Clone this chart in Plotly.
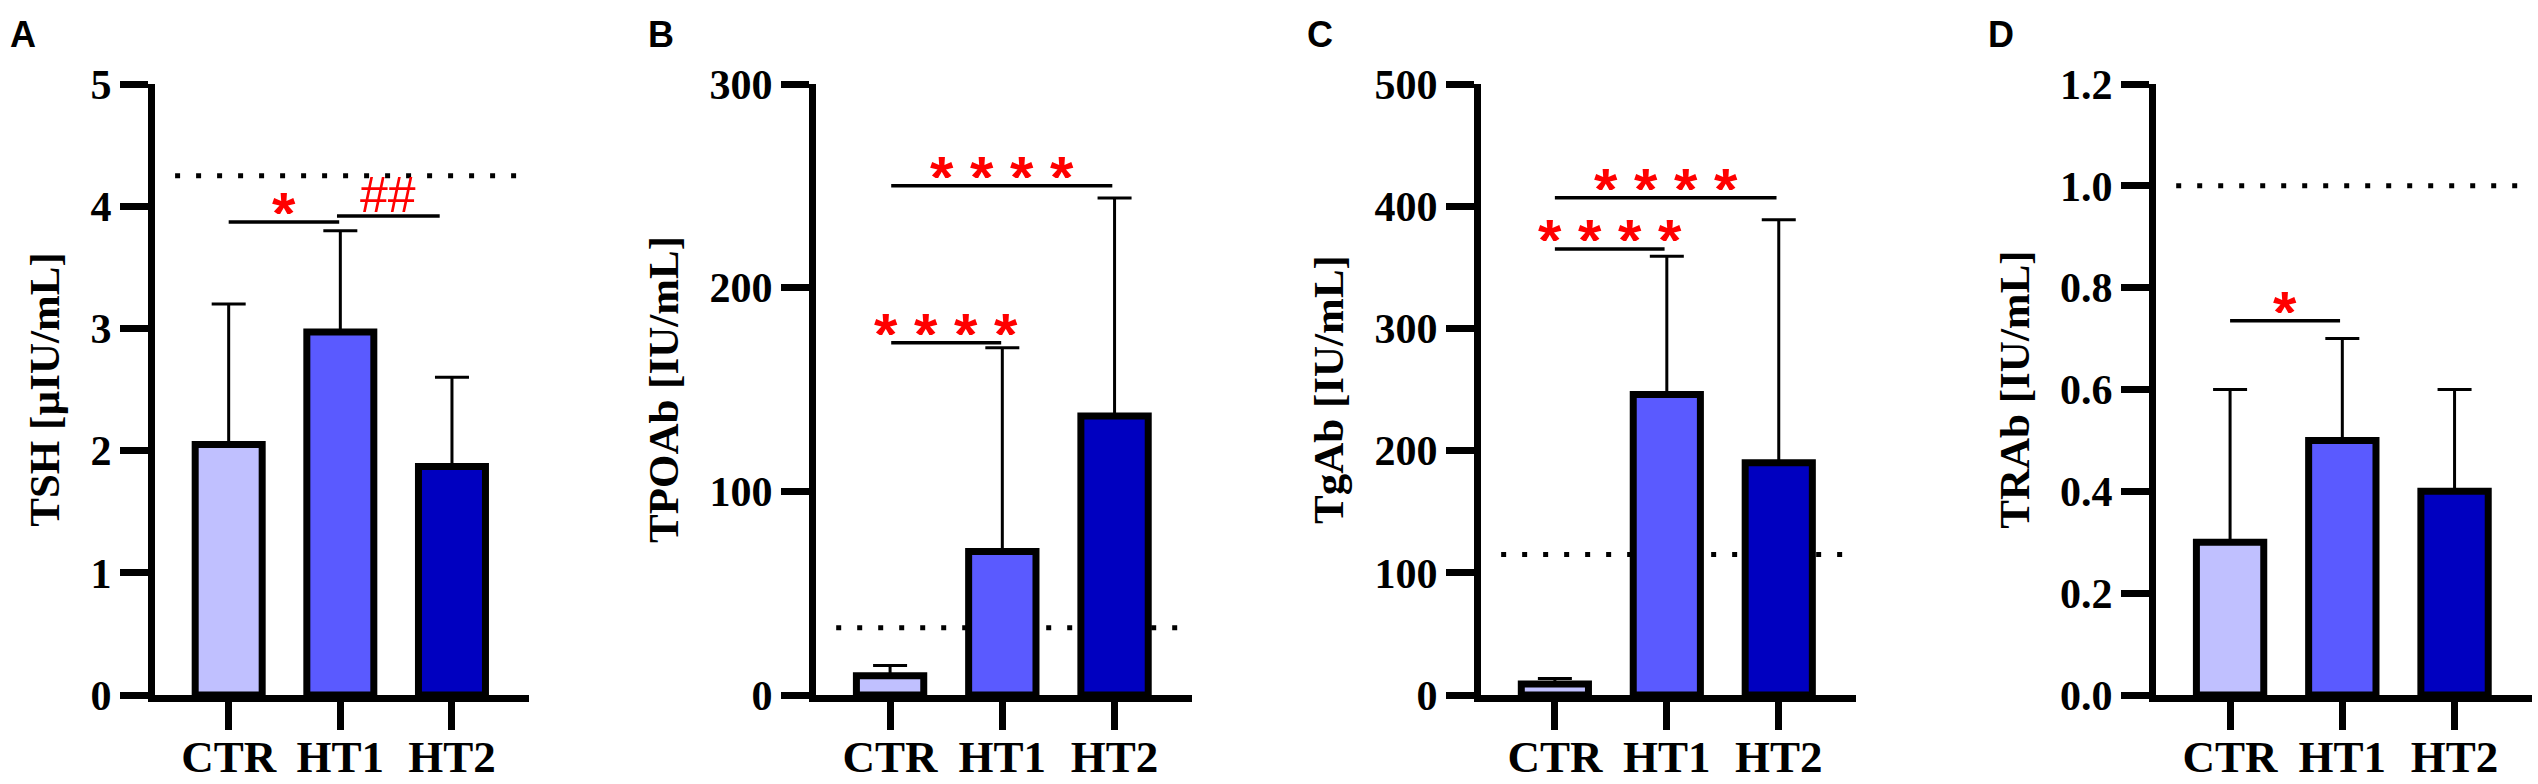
import plotly.graph_objects as go

# groups and values
groups = ['CTR', 'HT1', 'HT2']
colors = ['#c0c0ff', '#5a5aff', '#0000c0']

tsh_mean = [2.05, 2.97, 1.87]
tsh_sd = [1.15, 0.83, 0.73]
tpo_mean = [9.5, 70.5, 137]
tpo_sd = [5, 100, 107]
tg_mean = [9, 246, 190]
tg_sd = [4.5, 113, 199]
trab_mean = [0.3, 0.5, 0.4]
trab_sd = [0.3, 0.2, 0.2]

ref_lines = [4.25, 33, 115, 1.0]
titles = ['TSH [µIU/mL]', 'TPOAb [IU/mL]', 'TgAb [IU/mL]', 'TRAb [IU/mL]']
panel_letters = ['A', 'B', 'C', 'D']
y_ranges = [[0, 5], [0, 300], [0, 500], [0, 1.2]]
y_dticks = [1, 100, 100, 0.2]

# significance brackets: (panel, x0, x1, height, label)
brackets = [
    (0, 0.0, 0.99, 3.87, '*'),
    (0, 0.97, 1.89, 3.92, '##'),
    (1, 0.01, 0.99, 173, '* * * *'),
    (1, 0.01, 1.98, 250, '* * * *'),
    (2, 0.0, 0.98, 365, '* * * *'),
    (2, 0.0, 1.98, 407, '* * * *'),
    (3, 0.0, 0.98, 0.735, '*'),
]

means = [tsh_mean, tpo_mean, tg_mean, trab_mean]
sds = [tsh_sd, tpo_sd, tg_sd, trab_sd]

W, H = 2538, 784
x_domains = [[155, 529], [816, 1192], [1481, 1856], [2156, 2532]]
y_dom = [1 - 695 / H, 1 - 84 / H]
letter_x = [8, 646, 1305, 1986]

serif = 'Liberation Serif'
sans = 'Liberation Sans'

fig = go.Figure()
layout = dict(
    width=W, height=H,
    margin=dict(l=0, r=0, t=0, b=0),
    plot_bgcolor='white', paper_bgcolor='white',
    showlegend=False,
)
shapes = []
annotations = []

for i in range(4):
    n = '' if i == 0 else str(i + 1)
    xa, ya = 'x' + n, 'y' + n
    fig.add_trace(go.Bar(
        x=[0, 1, 2], y=means[i],
        xaxis=xa, yaxis=ya,
        width=0.6,
        marker=dict(color=colors, line=dict(color='black', width=7)),
        error_y=dict(type='data', symmetric=False, array=sds[i],
                     arrayminus=[0, 0, 0], color='black', thickness=3, width=17),
    ))
    layout['xaxis' + n] = dict(
        domain=[x_domains[i][0] / W, x_domains[i][1] / W],
        anchor=ya, automargin=False,
        range=[-0.66, 2.69],
        tickmode='array', tickvals=[0, 1, 2], ticktext=groups,
        showline=True, linecolor='black', linewidth=7,
        ticks='outside', ticklen=28, tickwidth=7, tickcolor='black',
        ticklabelstandoff=-12,
        showgrid=False, zeroline=False,
        tickfont=dict(family=serif, size=45, color='black', weight='bold'),
    )
    layout['yaxis' + n] = dict(
        domain=y_dom,
        anchor=xa, automargin=False,
        range=y_ranges[i], dtick=y_dticks[i],
        tickformat='.1f' if i == 3 else None,
        showline=True, linecolor='black', linewidth=7,
        ticks='outside', ticklen=28, tickwidth=7, tickcolor='black',
        showgrid=False, zeroline=False,
        tickfont=dict(family=serif, size=42, color='black', weight='bold'),
        title=dict(text=titles[i], standoff=20,
                   font=dict(family=serif, size=43, color='black', weight='bold')),
    )
    # reference (dotted) line, behind bars
    shapes.append(dict(
        type='line', xref=xa, yref=ya, x0=-0.48, x1=2.64,
        y0=ref_lines[i], y1=ref_lines[i], layer='below',
        line=dict(color='black', width=5, dash='5px,16px'),
    ))
    annotations.append(dict(
        text=panel_letters[i], xref='paper', yref='paper',
        x=letter_x[i] / W, y=1 - 12 / H, xanchor='left', yanchor='top',
        showarrow=False,
        font=dict(family=sans, size=36, color='black', weight='bold'),
    ))

for p, x0, x1, h, lab in brackets:
    n = '' if p == 0 else str(p + 1)
    xa, ya = 'x' + n, 'y' + n
    shapes.append(dict(
        type='line', xref=xa, yref=ya, x0=x0, x1=x1, y0=h, y1=h,
        line=dict(color='black', width=3.5),
    ))
    if lab == '##':
        annotations.append(dict(
            text=lab, xref=xa, yref=ya, x=(x0 + x1) / 2, y=h,
            xanchor='center', yanchor='bottom', yshift=-9,
            showarrow=False, font=dict(family=sans, size=50, color='#ff0000'),
        ))
    else:
        # asterisks sit high in the em box, so trim the empty lower part
        annotations.append(dict(
            text=lab, xref=xa, yref=ya, x=(x0 + x1) / 2, y=h,
            xanchor='center', yanchor='bottom', yshift=6,
            height=34, valign='top',
            showarrow=False,
            font=dict(family=sans, size=60, color='#ff0000', weight='bold'),
        ))

layout['shapes'] = shapes
layout['annotations'] = annotations
fig.update_layout(**layout)

fig.write_html('out.html', config={'displayModeBar': False},
               post_script="document.body.style.margin='0px';")
